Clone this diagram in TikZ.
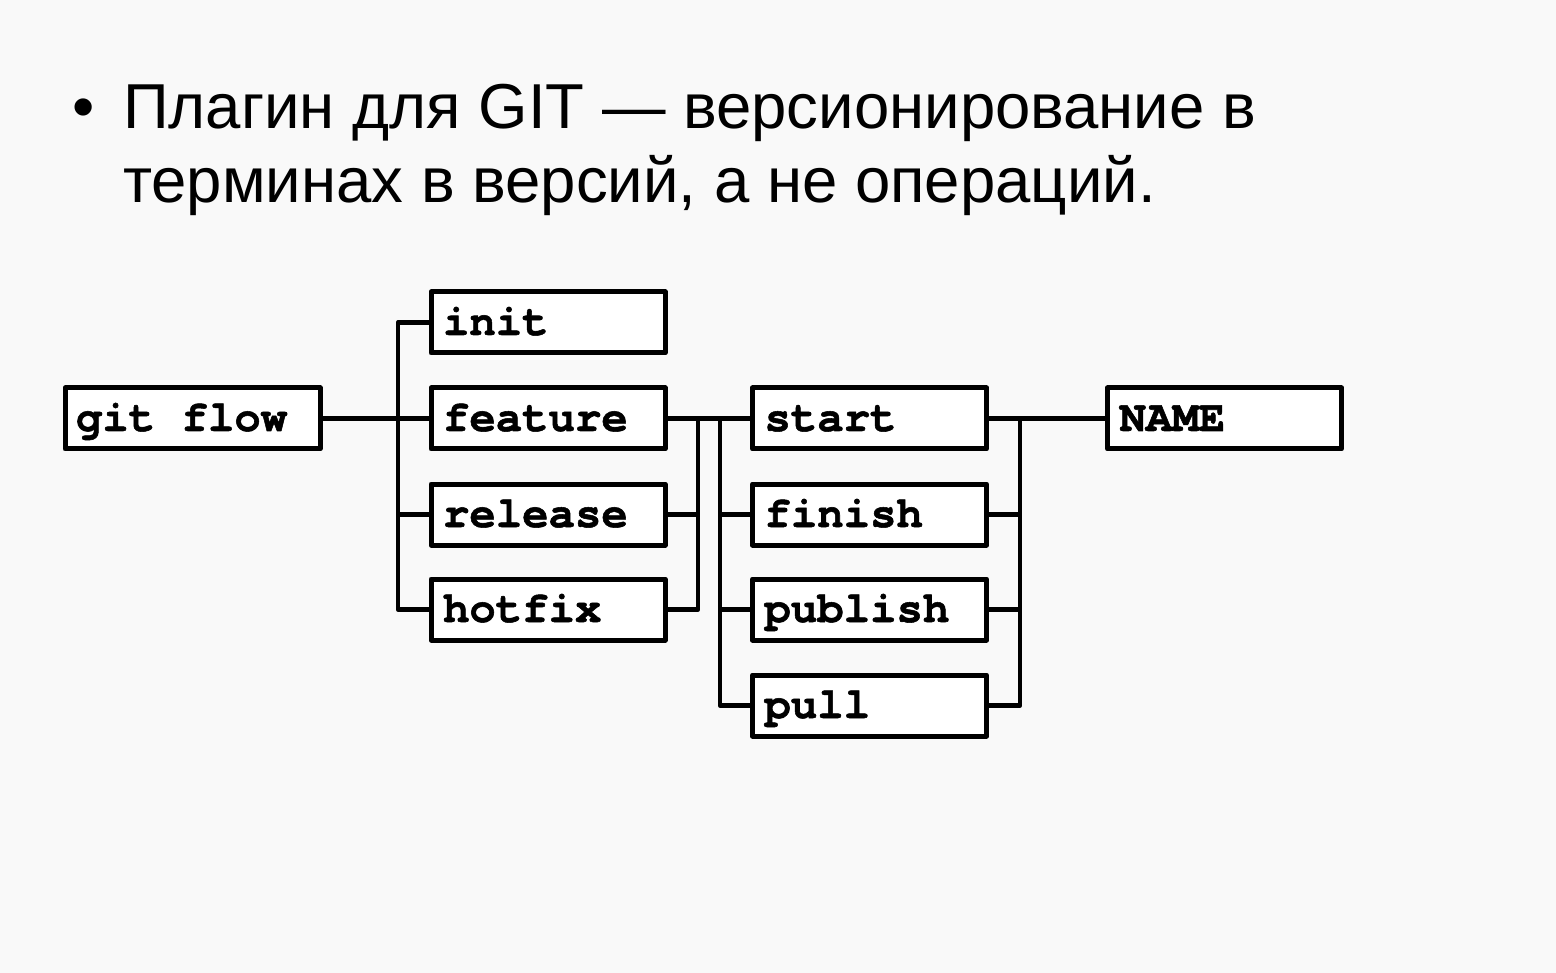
\documentclass[tikz,border=0pt]{standalone}
\usepackage{fontspec}
\setmainfont{Liberation Sans}
\newfontfamily\boxfont{texgyrecursor-bold.otf}[Ligatures={NoCommon,NoRequired,NoContextual},FakeBold=1.2]
\definecolor{bg}{HTML}{F9F9F9}
\tikzset{
  cmd/.style={draw=black, line width=5pt, fill=white, rectangle, line join=round,
    inner xsep=12pt, inner ysep=0pt, text width=210pt, align=left,
    text height=43pt, text depth=18pt,
    font=\boxfont\fontsize{44}{44}\selectfont},
  wide/.style={text width=233pt, inner xsep=11pt},
  link/.style={line width=4.8pt, line join=round, line cap=rect},
  title/.style={inner sep=0pt, anchor=base west, font=\fontsize{63.5}{74}\selectfont}
}
\begin{document}
\begin{tikzpicture}[x=1pt, y=-1pt]
\fill[bg] (0,0) rectangle (1556,973);
\useasboundingbox (0,0) rectangle (1556,973);

\node[title] (bul) at (72,129) {•};
\node[title] (t1) at (123,129) {Плагин для GIT — версионирование в};
\node[title] (t2) at (123,203) {терминах в версий, а не операций.};

\coordinate (b1t) at (398,322.5);
\coordinate (b1b) at (398,609.5);
\coordinate (b2t) at (698,418.5);
\coordinate (b2b) at (698,609.5);
\coordinate (b3t) at (720,418.5);
\coordinate (b3b) at (720,705.5);
\coordinate (b4t) at (1020,418.5);
\coordinate (b4b) at (1020,705.5);

\coordinate (cgit) at (192.5,418.5);
\coordinate (cinit) at (548,322.5);
\coordinate (cfeature) at (548,418.5);
\coordinate (crelease) at (548,514.5);
\coordinate (chotfix) at (548,609.5);
\coordinate (cstart) at (869.5,418.5);
\coordinate (cfinish) at (869.5,514.5);
\coordinate (cpublish) at (869.5,609.5);
\coordinate (cpull) at (869.5,705.5);
\coordinate (cname) at (1224.5,418.5);

\node[cmd, wide] (git) at (cgit) {git\hspace{0.6em}flow};
\node[cmd] (init) at (cinit) {init};
\node[cmd] (feature) at (cfeature) {feature};
\node[cmd] (release) at (crelease) {release};
\node[cmd] (hotfix) at (chotfix) {hotfix};
\node[cmd] (start) at (cstart) {start};
\node[cmd] (finish) at (cfinish) {finish};
\node[cmd] (publish) at (cpublish) {publish};
\node[cmd] (pull) at (cpull) {pull};
\node[cmd] (name) at (cname) {NAME};

\draw[link] (git.east) -- (feature.west);
\draw[link] (init.west) -- (b1t) -- (b1b) -- (hotfix.west);
\draw[link] (release.west) -- (release.west -| b1t);

\draw[link] (feature.east) -- (start.west);
\draw[link] (release.east) -- (release.east -| b2t);
\draw[link] (b2t) -- (b2b) -- (hotfix.east);
\draw[link] (b3t) -- (b3b) -- (pull.west);
\draw[link] (finish.west) -- (finish.west -| b3t);
\draw[link] (publish.west) -- (publish.west -| b3t);

\draw[link] (start.east) -- (name.west);
\draw[link] (b4t) -- (b4b) -- (pull.east);
\draw[link] (finish.east) -- (finish.east -| b4t);
\draw[link] (publish.east) -- (publish.east -| b4t);
\end{tikzpicture}
\end{document}
